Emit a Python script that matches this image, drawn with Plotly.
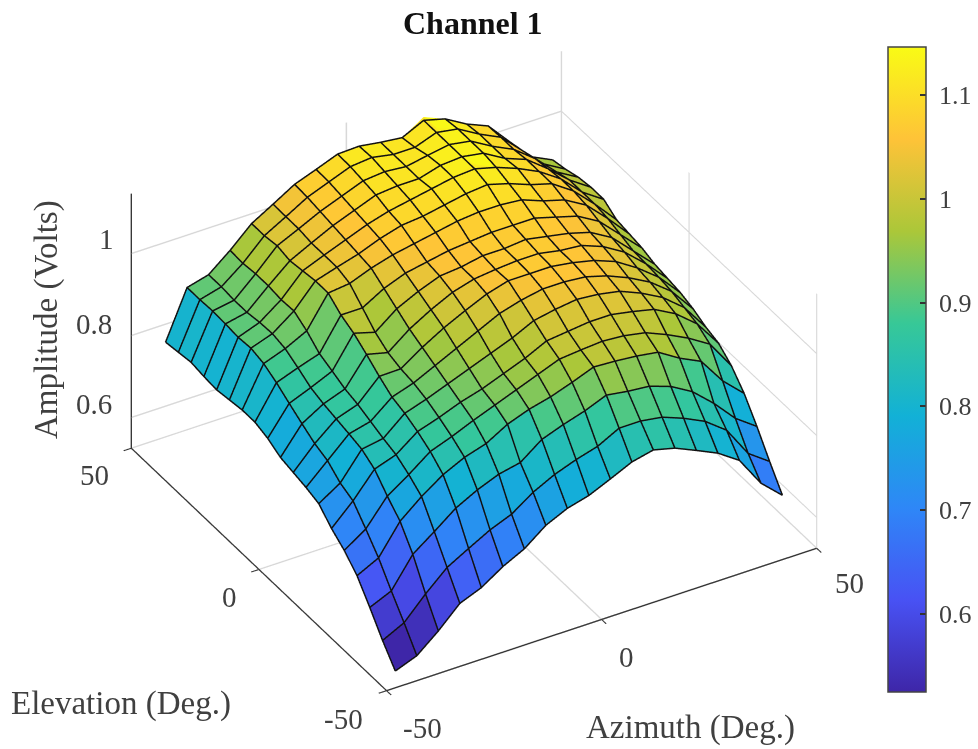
import plotly.graph_objects as go

azimuth = [-45,-40,-35,-30,-25,-20,-15,-10,-5,0,5,10,15,20,25,30,35,40,45]
elevation = [-45,-40,-35,-30,-25,-20,-15,-10,-5,0,5,10,15,20,25,30,35,40,45]
amplitude = [
[.526,.546,.589,.639,.66,.694,.72,.76,.784,.798,.821,.845,.857,.844,.821,.797,.762,.689,.642],
[.571,.597,.65,.697,.726,.754,.775,.811,.837,.856,.871,.898,.898,.89,.87,.845,.806,.732,.695],
[.622,.645,.717,.755,.795,.822,.843,.854,.893,.912,.928,.949,.941,.936,.918,.888,.842,.788,.751],
[.67,.696,.768,.811,.847,.872,.888,.918,.937,.95,.968,.988,.985,.98,.972,.94,.915,.85,.802],
[.702,.737,.80,.835,.874,.893,.915,.935,.955,.975,.995,1.0,1.004,1.0,.99,.968,.942,.91,.84],
[.726,.776,.836,.854,.893,.91,.93,.945,.965,.985,1.01,1.016,1.022,1.022,1.012,1.0,.972,.93,.865],
[.757,.79,.855,.864,.908,.925,.945,.965,.985,1.005,1.03,1.04,1.047,1.042,1.032,1.01,.982,.94,.875],
[.767,.815,.863,.876,.918,.935,.96,.985,1.01,1.035,1.05,1.06,1.06,1.055,1.04,1.018,.99,.95,.89],
[.774,.827,.87,.888,.939,.94,.975,1.005,1.03,1.053,1.068,1.068,1.068,1.06,1.048,1.028,.995,.955,.90],
[.781,.846,.877,.896,.963,.95,.99,1.02,1.045,1.06,1.066,1.07,1.07,1.06,1.055,1.035,1.004,.958,.905],
[.798,.866,.887,.91,.985,.97,1.01,1.035,1.055,1.06,1.07,1.07,1.075,1.065,1.055,1.04,1.01,.96,.91],
[.808,.887,.906,.923,1.0,1.0,1.03,1.05,1.06,1.07,1.075,1.08,1.08,1.08,1.065,1.05,1.02,.97,.92],
[.808,.904,.923,.949,1.024,1.03,1.05,1.065,1.075,1.085,1.095,1.10,1.10,1.095,1.075,1.06,1.03,.98,.925],
[.803,.912,.93,.968,1.024,1.04,1.055,1.075,1.09,1.095,1.105,1.115,1.12,1.105,1.085,1.07,1.035,.985,.93],
[.798,.909,.928,.966,1.019,1.04,1.06,1.08,1.095,1.105,1.115,1.125,1.14,1.115,1.095,1.07,1.035,.985,.95],
[.801,.912,.923,.97,1.014,1.04,1.065,1.085,1.105,1.11,1.11,1.125,1.13,1.12,1.09,1.07,1.03,.985,.95],
[.806,.914,.923,.97,1.021,1.045,1.07,1.09,1.11,1.115,1.11,1.12,1.13,1.12,1.09,1.065,1.025,.975,.945],
[.801,.912,.926,.966,1.016,1.045,1.075,1.095,1.115,1.12,1.11,1.11,1.14,1.12,1.09,1.065,1.015,.965,.935],
[.796,.912,.926,.968,1.016,1.046,1.077,1.096,1.116,1.118,1.11,1.104,1.137,1.115,1.085,1.063,1.007,.953,.928],
]
axis_ticks = [-50, 0, 50]
amp_ticks = [0.6, 0.8, 1]
bar_ticks = [0.6, 0.7, 0.8, 0.9, 1, 1.1]
parula = [[0,"rgb(62,38,168)"],[1/7,"rgb(72,82,244)"],[2/7,"rgb(46,135,247)"],[3/7,"rgb(18,177,214)"],
          [4/7,"rgb(55,200,151)"],[5/7,"rgb(171,199,57)"],[6/7,"rgb(254,195,56)"],[1,"rgb(249,251,21)"]]

SERIF = "Liberation Serif"
INK = "#404040"
GRID = "#d8d8d8"
ZMIN, ZMAX = 0.525, 1.146
k = 1.385
ASPECT = dict(x=0.98*k, y=0.985*k, z=0.603*k)
EYE = (-0.421*2, -0.713*2, 0.561*2)

n_az, n_el = len(azimuth), len(elevation)
vx, vy, vz = [], [], []
for row, el in zip(amplitude, elevation):
    for az, amp in zip(azimuth, row):
        vx.append(az); vy.append(el); vz.append(amp)
ti, tj, tk, cell = [], [], [], []
for e in range(n_el - 1):
    for a in range(n_az - 1):
        p = e * n_az + a
        ti += [p, p]; tj += [p + 1, p + n_az + 1]; tk += [p + n_az + 1, p + n_az]
        cell += [amplitude[e][a], amplitude[e][a]]

# wire lines sit a hair toward the camera so the facets do not cut them; the screen position is unchanged.
# The scene clips anything above its z range, so the lift is capped there.
lift = 0.02
dx = EYE[0] * lift * 100 / ASPECT["x"]
dy = EYE[1] * lift * 100 / ASPECT["y"]
dz = EYE[2] * lift * (ZMAX - ZMIN) / ASPECT["z"]
def lifted(v):
    return min(v + dz, ZMAX - 0.0005)
lx, ly, lz = [], [], []
for e in range(n_el):
    lx += [v + dx for v in azimuth] + [None]
    ly += [elevation[e] + dy] * n_az + [None]
    lz += [lifted(v) for v in amplitude[e]] + [None]
for a in range(n_az):
    lx += [azimuth[a] + dx] * n_el + [None]
    ly += [v + dy for v in elevation] + [None]
    lz += [lifted(amplitude[e][a]) for e in range(n_el)] + [None]

def scene_axis(rng, ticks, tick_style="outside"):
    return dict(range=rng, tickvals=ticks, showticklabels=False, title=dict(text=""),
                showbackground=False, showgrid=True, gridcolor=GRID, gridwidth=3,
                showline=True, linecolor="#383838", linewidth=3, zeroline=False,
                ticks=tick_style, ticklen=9, tickcolor="#383838", tickwidth=2.5, showspikes=False)

fig = go.Figure()
fig.add_trace(go.Mesh3d(
    x=vx, y=vy, z=vz, i=ti, j=tj, k=tk, intensity=cell, intensitymode="cell",
    colorscale=parula, cmin=ZMIN, cmax=ZMAX, flatshading=True, hoverinfo="skip",
    lighting=dict(ambient=1, diffuse=0, specular=0, roughness=1, fresnel=0),
    colorbar=dict(x=888/978, xanchor="left", xpad=0, y=57/749, yanchor="bottom", ypad=0,
                  thickness=38, lenmode="pixels", len=645, tickvals=bar_ticks,
                  ticktext=["\u00a0" + str(t) for t in bar_ticks], ticks="inside", ticklen=6, tickcolor="#333",
                  tickwidth=1.5, outlinecolor="#444", outlinewidth=1.5,
                  tickfont=dict(family=SERIF, size=26, color=INK)),
))
fig.add_trace(go.Scatter3d(x=lx, y=ly, z=lz, mode="lines", line=dict(color="#111", width=3),
                           hoverinfo="skip", showlegend=False, connectgaps=False))
zx, zy, zz = [], [], []
for t in amp_ticks:
    zx += [-50, -50, None]; zy += [50, 53.5, None]; zz += [t, t, None]
fig.add_trace(go.Scatter3d(x=zx, y=zy, z=zz, mode="lines", line=dict(color="#383838", width=3),
                           hoverinfo="skip", showlegend=False, connectgaps=False))

tick_font = dict(family=SERIF, size=29, color=INK)
notes = []
for t, sx, sy in zip(axis_ticks, [36, 25, 33], [38, 38, 35]):
    notes.append(dict(x=t, y=-50, z=ZMIN, text=str(t), showarrow=False, xshift=sx, yshift=-sy,
                      xanchor="center", yanchor="middle", font=tick_font))
for t, sx, sy in zip(axis_ticks, [-43, -29, -37], [29, 28, 27]):
    notes.append(dict(x=-50, y=t, z=ZMIN, text=str(t), showarrow=False, xshift=sx, yshift=-sy,
                      xanchor="center", yanchor="middle", font=tick_font))
for t, sx, sy in zip(amp_ticks, [-37, -37, -25], [13, 11, 14]):
    notes.append(dict(x=-50, y=50, z=t, text=str(t), showarrow=False, xshift=sx, yshift=sy,
                      xanchor="center", yanchor="middle", font=tick_font))

def paper_text(text, px, py, size, color=INK, angle=0):
    return dict(text=text, x=px/978, y=1-py/749, xref="paper", yref="paper", showarrow=False,
                xanchor="center", yanchor="middle", textangle=angle,
                font=dict(family=SERIF, size=size, color=color))

fig.update_layout(
    width=978, height=749, autosize=False, paper_bgcolor="white",
    margin=dict(l=0, r=0, t=0, b=0, autoexpand=False),
    scene=dict(
        domain=dict(x=[0, 948/978], y=[10.5/749, 746.5/749]),
        xaxis=scene_axis([-50, 50], axis_ticks),
        yaxis=scene_axis([-50, 50], axis_ticks),
        zaxis=scene_axis([ZMIN, ZMAX], amp_ticks, ""),
        aspectmode="manual", aspectratio=ASPECT,
        camera=dict(projection=dict(type="orthographic"), up=dict(x=0, y=0, z=1),
                    center=dict(x=0, y=0, z=0),
                    eye=dict(x=EYE[0], y=EYE[1], z=EYE[2])),
        annotations=notes,
    ),
    annotations=[
        paper_text("<b>Channel 1</b>", 473, 23, 32, "#111"),
        paper_text("Amplitude (Volts)", 46, 320, 33, INK, -90),
        paper_text("Elevation (Deg.)", 121, 703, 33),
        paper_text("Azimuth (Deg.)", 690, 727, 33),
    ],
)
fig.write_html("out.html", config={"displayModeBar": False}, post_script="document.body.style.margin='0';")
